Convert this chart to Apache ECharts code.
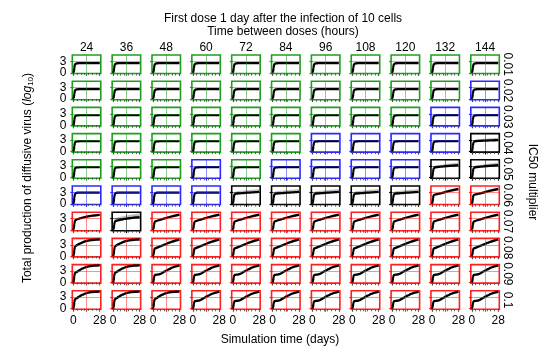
<!DOCTYPE html>
<html><head><meta charset="utf-8">
<script src="https://cdn.jsdelivr.net/npm/echarts@6/dist/echarts.min.js"></script>
<style>html,body{margin:0;padding:0;background:#fff}#c{width:550px;height:354px}</style>
</head><body><div id="c"></div>
<script>
// ---------------- data ----------------
const days = [0,0.5,1,1.5,2,3,4,6,8,10,12,14,17,20,24,28];
const colLabels = ['24','36','48','60','72','84','96','108','120','132','144'];
const rowLabels = ['0.01','0.02','0.03','0.04','0.05','0.06','0.07','0.08','0.09','0.1'];
const xTickLabels = [0, 28];
const yTickLabels = [0, 3];
const xMinorTicks = [0,4,8,12,16,20,24,28];

// panel border colour codes (G green, B blue, K black, R red)
const panelColors = [
  'GGGGGGGGGGG',
  'GGGGGGGGGGB',
  'GGGGGGGGGBB',
  'GGGGGGBBBBK',
  'GGGBGBBBBKK',
  'BBBBKKKKKRR',
  'RKRRRRRRRRR',
  'RRRRRRRRRRR',
  'RRRRRRRRRRR',
  'RRRRRRRRRRR'
];
// curve used by each panel
const panelCurves = [
  ['P1','P1','P1','P1','P1','P1','P1','P1','P1','P1','P1'],
  ['P2','P2','P2','P2','P2','P2','P2','P2','P2','P2','P2'],
  ['P3','P3','P3','P3','P3','P3','P3','P3','P3','P3','P3'],
  ['P4','P4','P4','P4','P4','P4','P4','P4','P4','P4','K1'],
  ['P5','P5','P5','P5','P5','P5','P5','P5','P5','K2','K2'],
  ['P6','P6','P6','P6','K3','K3','K3','K3','K3','R6','R6'],
  ['R7a','K4','R7b','R7b','R7b','R7b','R7b','R7b','R7b','R7b','R7b'],
  ['R8a','R8a','R8b','R8b','R8b','R8b','R8b','R8b','R8b','R8b','R8b'],
  ['R9a','R9a','R9b','R9b','R9b','R9b','R9b','R9b','R9b','R9b','R9b'],
  ['R9a','R9a','R9a','R9b','R9b','R9b','R9b','R9b','R9b','R9b','R9b']
];

// median line (log10 production) and run envelope, at the days above
const lineP1 = [0,0.3,1.3,2.0,2.3,2.45,2.5,2.52,2.53,2.54,2.55,2.55,2.55,2.55,2.55,2.55];
const loP1   = [0,0.2,1.1,1.8,2.15,2.35,2.42,2.45,2.46,2.47,2.48,2.48,2.48,2.48,2.48,2.48];
const hiP1   = [0,0.5,1.6,2.3,2.6,2.75,2.8,2.82,2.83,2.84,2.85,2.85,2.85,2.85,2.85,2.85];
const lineP2 = [0,0.3,1.35,2.05,2.35,2.5,2.55,2.57,2.58,2.59,2.6,2.6,2.6,2.6,2.6,2.6];
const loP2   = [0,0.2,1.15,1.85,2.2,2.4,2.47,2.5,2.51,2.52,2.53,2.53,2.53,2.53,2.53,2.53];
const hiP2   = [0,0.5,1.65,2.35,2.65,2.8,2.85,2.87,2.88,2.89,2.9,2.9,2.9,2.9,2.9,2.9];
const lineP3 = [0,0.3,1.4,2.1,2.4,2.55,2.6,2.62,2.63,2.64,2.65,2.65,2.65,2.65,2.65,2.65];
const loP3   = [0,0.2,1.2,1.9,2.25,2.45,2.52,2.55,2.56,2.57,2.58,2.58,2.58,2.58,2.58,2.58];
const hiP3   = [0,0.5,1.7,2.4,2.7,2.85,2.9,2.92,2.93,2.94,2.95,2.95,2.95,2.95,2.95,2.95];
const lineP4 = [0,0.3,1.45,2.15,2.45,2.6,2.65,2.67,2.68,2.69,2.7,2.7,2.7,2.7,2.7,2.7];
const loP4   = [0,0.2,1.25,1.95,2.3,2.5,2.57,2.6,2.61,2.62,2.63,2.63,2.63,2.63,2.63,2.63];
const hiP4   = [0,0.5,1.75,2.45,2.75,2.9,2.95,2.97,2.98,2.99,3.0,3.0,3.0,3.0,3.0,3.0];
const lineP5 = [0,0.35,1.5,2.2,2.5,2.65,2.7,2.72,2.73,2.74,2.75,2.75,2.75,2.75,2.75,2.75];
const loP5   = [0,0.25,1.3,2.0,2.35,2.55,2.62,2.65,2.66,2.67,2.68,2.68,2.68,2.68,2.68,2.68];
const hiP5   = [0,0.55,1.8,2.5,2.8,2.95,3.0,3.02,3.03,3.04,3.05,3.05,3.05,3.05,3.05,3.05];
const lineP6 = [0,0.4,1.6,2.35,2.7,2.85,2.9,2.93,2.94,2.95,2.95,2.95,2.95,2.95,2.95,2.95];
const loP6   = [0,0.3,1.4,2.15,2.55,2.75,2.82,2.85,2.86,2.87,2.87,2.87,2.87,2.87,2.87,2.87];
const hiP6   = [0,0.6,1.9,2.65,3.0,3.15,3.2,3.22,3.23,3.24,3.25,3.25,3.25,3.25,3.25,3.25];
const lineK1 = [0,0.3,1.4,2.1,2.45,2.62,2.68,2.73,2.76,2.79,2.81,2.83,2.86,2.89,2.92,2.95];
const loK1   = [0,0.2,1.2,1.9,2.3,2.5,2.58,2.63,2.66,2.68,2.7,2.72,2.74,2.76,2.78,2.8];
const hiK1   = [0,0.6,1.8,2.6,2.9,3.05,3.1,3.15,3.2,3.24,3.28,3.32,3.37,3.42,3.48,3.55];
const lineK2 = [0,0.3,1.45,2.15,2.5,2.66,2.72,2.78,2.83,2.88,2.93,2.98,3.04,3.1,3.17,3.25];
const loK2   = [0,0.2,1.25,1.95,2.35,2.55,2.62,2.67,2.71,2.75,2.79,2.83,2.88,2.93,2.99,3.05];
const hiK2   = [0,0.6,1.85,2.65,2.95,3.1,3.17,3.25,3.32,3.39,3.46,3.53,3.62,3.71,3.82,3.93];
const lineK3 = [0,0.35,1.5,2.2,2.5,2.63,2.68,2.72,2.76,2.8,2.84,2.88,2.93,2.98,3.04,3.1];
const loK3   = [0,0.25,1.3,2.0,2.35,2.52,2.58,2.62,2.65,2.68,2.71,2.74,2.78,2.82,2.87,2.92];
const hiK3   = [0,0.7,2.0,2.8,3.1,3.25,3.3,3.35,3.4,3.45,3.5,3.55,3.6,3.66,3.73,3.8];
const lineK4 = [0,0.3,1.3,1.95,2.25,2.4,2.48,2.6,2.7,2.8,2.9,2.98,3.08,3.18,3.3,3.4];
const loK4   = [0,0.2,1.1,1.75,2.05,2.2,2.28,2.4,2.5,2.58,2.66,2.74,2.84,2.94,3.05,3.15];
const hiK4   = [0,0.7,1.9,2.7,3.05,3.2,3.28,3.4,3.5,3.6,3.7,3.8,3.92,4.05,4.2,4.35];
const lineR6 = [0,0.3,1.4,2.05,2.3,2.42,2.48,2.58,2.7,2.82,2.95,3.08,3.28,3.46,3.68,3.9];
const loR6   = [0,0.2,1.2,1.85,2.12,2.25,2.3,2.4,2.5,2.6,2.7,2.8,2.96,3.1,3.3,3.5];
const hiR6   = [0,0.45,1.6,2.25,2.5,2.62,2.7,2.82,2.96,3.1,3.25,3.4,3.62,3.82,4.05,4.3];
const lineR7a = [0,0.4,1.55,2.25,2.55,2.7,2.8,2.97,3.12,3.26,3.38,3.49,3.63,3.74,3.85,3.93];
const loR7a   = [0,0.3,1.35,2.05,2.35,2.5,2.6,2.77,2.92,3.06,3.18,3.29,3.43,3.54,3.65,3.73];
const hiR7a   = [0,0.55,1.75,2.45,2.75,2.9,3.0,3.17,3.32,3.46,3.58,3.69,3.83,3.94,4.05,4.13];
const lineR7b = [0,0.3,1.35,1.95,2.2,2.33,2.42,2.57,2.72,2.87,3.02,3.17,3.38,3.58,3.8,4.0];
const loR7b   = [0,0.2,1.15,1.75,2.0,2.13,2.22,2.35,2.48,2.61,2.74,2.87,3.05,3.23,3.43,3.62];
const hiR7b   = [0,0.45,1.55,2.15,2.4,2.53,2.62,2.78,2.95,3.12,3.28,3.44,3.66,3.88,4.12,4.35];
const lineR8a = [0,0.4,1.6,2.3,2.6,2.8,2.95,3.2,3.45,3.65,3.84,3.99,4.14,4.24,4.31,4.36];
const loR8a   = [0,0.3,1.4,2.1,2.4,2.6,2.75,3.0,3.23,3.43,3.6,3.75,3.92,4.04,4.13,4.2];
const hiR8a   = [0,0.55,1.8,2.5,2.8,3.0,3.15,3.4,3.65,3.85,4.03,4.17,4.3,4.4,4.46,4.5];
const lineR8b = [0,0.3,1.3,1.85,2.05,2.15,2.23,2.42,2.62,2.83,3.04,3.24,3.53,3.8,4.1,4.36];
const loR8b   = [0,0.2,1.1,1.65,1.85,1.95,2.03,2.2,2.38,2.56,2.74,2.92,3.2,3.45,3.75,4.0];
const hiR8b   = [0,0.45,1.5,2.05,2.25,2.35,2.44,2.64,2.86,3.08,3.3,3.52,3.82,4.1,4.38,4.55];
const lineR9a = [0,0.45,1.7,2.3,2.5,2.68,2.83,3.13,3.43,3.68,3.88,4.04,4.23,4.34,4.4,4.43];
const loR9a   = [0,0.35,1.5,2.1,2.3,2.48,2.63,2.92,3.2,3.45,3.66,3.83,4.03,4.16,4.25,4.3];
const hiR9a   = [0,0.6,1.9,2.5,2.7,2.88,3.03,3.33,3.63,3.88,4.08,4.23,4.4,4.48,4.52,4.55];
const lineR9b = [0,0.3,1.3,1.8,1.95,2.0,2.04,2.1,2.25,2.52,2.82,3.1,3.48,3.84,4.18,4.45];
const loR9b   = [0,0.2,1.1,1.6,1.75,1.8,1.84,1.9,2.03,2.28,2.56,2.83,3.2,3.55,3.9,4.2];
const hiR9b   = [0,0.45,1.5,2.0,2.15,2.2,2.24,2.32,2.5,2.8,3.1,3.4,3.78,4.12,4.42,4.6];

// ---------------- lookup tables ----------------
const curves = {
  P1:[lineP1,loP1,hiP1], P2:[lineP2,loP2,hiP2], P3:[lineP3,loP3,hiP3],
  P4:[lineP4,loP4,hiP4], P5:[lineP5,loP5,hiP5], P6:[lineP6,loP6,hiP6],
  K1:[lineK1,loK1,hiK1], K2:[lineK2,loK2,hiK2], K3:[lineK3,loK3,hiK3], K4:[lineK4,loK4,hiK4],
  R6:[lineR6,loR6,hiR6], R7a:[lineR7a,loR7a,hiR7a], R7b:[lineR7b,loR7b,hiR7b],
  R8a:[lineR8a,loR8a,hiR8a], R8b:[lineR8b,loR8b,hiR8b],
  R9a:[lineR9a,loR9a,hiR9a], R9b:[lineR9b,loR9b,hiR9b]
};
const colorOf = {G:'#1f9e1f', B:'#2a2aff', K:'#000000', R:'#ff1f1f'};
const bandOf = {
  P:['rgba(150,150,150,0.35)','rgba(150,175,150,0.35)'],
  K:['rgba(110,110,110,0.45)','rgba(110,110,110,0.45)'],
  R:['rgba(90,150,210,0.6)','rgba(232,175,120,0.6)']
};

// ---------------- layout ----------------
const left0 = 72.3, dx = 39.85, top0 = 55, dy = 26.2, pw = 28.5, ph = 18.5;
const FONT = 'Liberation Sans';
const YMIN = -0.15, YMAX = 4.65, XMIN = -1.12, XMAX = 29.12;

// band between two value columns (dims a and b) drawn as one polygon
function bandSeries(idx, data, a, b, color) {
  return {type: 'custom', coordinateSystem: 'cartesian2d', xAxisIndex: 2*idx, yAxisIndex: idx,
    silent: true, animation: false, z: 2, clip: true, data: data,
    renderItem: function (params, api) {
      if (params.dataIndexInside !== 0) return null;
      const n = params.dataInsideLength, pts = [];
      for (let k = 0; k < n; k++) pts.push(api.coord([api.value(0, k), api.value(b, k)]));
      for (let k = n - 1; k >= 0; k--) pts.push(api.coord([api.value(0, k), api.value(a, k)]));
      return {type: 'polygon', shape: {points: pts}, style: {fill: color}};
    }};
}
const labelStyle = {fontSize: 12, fontFamily: FONT, color: '#000', hideOverlap: false};

const grids = [], xAxes = [], yAxes = [], extraY = [], series = [];
let idx = 0;
for (let r = 0; r < rowLabels.length; r++) {
  for (let c = 0; c < colLabels.length; c++) {
    const col = colorOf[panelColors[r][c]];
    const name = panelCurves[r][c];
    const [ln, lo, hi] = curves[name];
    const band = bandOf[name[0]];
    grids.push({left: left0 + c*dx, top: top0 + r*dy, width: pw, height: ph,
      show: true, borderColor: col, borderWidth: 1.6, backgroundColor: 'transparent',
      containLabel: false, outerBoundsMode: 'none'});
    xAxes.push({gridIndex: idx, type: 'value', min: XMIN, max: XMAX, position: 'bottom',
      axisLine: {show: false}, splitLine: {show: false},
      axisTick: {show: true, customValues: [0,14,28], length: 3, lineStyle: {color: col, width: 1.2}},
      axisLabel: Object.assign({show: r === rowLabels.length - 1, customValues: xTickLabels, margin: 5}, labelStyle)});
    xAxes.push({gridIndex: idx, type: 'value', min: XMIN, max: XMAX, position: 'bottom', offset: 0,
      axisLine: {show: false}, splitLine: {show: false}, axisLabel: {show: false},
      axisTick: {show: true, customValues: xMinorTicks, length: 2, lineStyle: {color: '#444', width: 0.8}}});
    yAxes.push({gridIndex: idx, type: 'value', min: YMIN, max: YMAX, position: 'left',
      axisLine: {show: false}, splitLine: {show: false},
      axisTick: {show: true, customValues: yTickLabels, length: 3, lineStyle: {color: col, width: 1.2}},
      axisLabel: Object.assign({show: c === 0, customValues: [yTickLabels[1]], margin: 6}, labelStyle)});
    if (c === 0) {
      // second left axis carrying the "0" label (one label per axis avoids overlap hiding)
      extraY.push({gridIndex: idx, type: 'value', min: YMIN, max: YMAX, position: 'left', offset: 0,
        axisLine: {show: false}, splitLine: {show: false}, axisTick: {show: false},
        axisLabel: Object.assign({show: true, customValues: [yTickLabels[0]], margin: 6}, labelStyle)});
    }
    const data = days.map((d,k) => [d, lo[k], ln[k], hi[k]]);
    // gridlines at day 14 and log10 = 3
    series.push({type: 'line', xAxisIndex: 2*idx, yAxisIndex: idx, data: [], silent: true, animation: false, z: 1,
      markLine: {silent: true, symbol: ['none','none'], label: {show: false}, animation: false,
        lineStyle: {color: col, width: 1, type: 'solid', opacity: 0.5},
        data: [{xAxis: 14}, {yAxis: 3}]}});
    series.push(bandSeries(idx, data, 1, 2, band[0]));
    series.push(bandSeries(idx, data, 2, 3, band[1]));
    series.push({type: 'line', xAxisIndex: 2*idx, yAxisIndex: idx, showSymbol: false, symbol: 'none',
      silent: true, animation: false, z: 3, smooth: 0.25, smoothMonotone: 'x',
      data: days.map((d,k) => [d, ln[k]]), lineStyle: {color: '#000', width: 2.3}});
    idx++;
  }
}

const txt = (text, x, y, rot, extra) => ({type: 'text', x: x, y: y, rotation: rot || 0, silent: true,
  style: Object.assign({text: text, fontSize: 12, fontFamily: FONT, fill: '#000',
    align: 'center', verticalAlign: 'middle'}, extra || {})});
const graphics = [
  txt('First dose 1 day after the infection of 10 cells', 283, 18.5),
  txt('Time between doses (hours)', 283, 32),
  txt('Simulation time (days)', 280, 340),
  txt('IC50 multiplier', 532, 182, -Math.PI/2),
  txt('Total production of diffusive virus ({i|log}{s|10})', 28, 178, Math.PI/2, {
    rich: {i: {fontStyle: 'italic', fontSize: 12, fontFamily: FONT},
           s: {fontSize: 8, fontFamily: FONT, padding: [6,0,0,0]}}})
];
colLabels.forEach((t, c) => graphics.push(txt(t, left0 + c*dx + pw/2, 47.5)));
rowLabels.forEach((t, r) => graphics.push(txt(t, 507.5, top0 + r*dy + ph/2, -Math.PI/2)));

const chart = echarts.init(document.getElementById('c'), null, {renderer: 'canvas'});
chart.setOption({animation: false, backgroundColor: '#fff', grid: grids, xAxis: xAxes,
  yAxis: yAxes.concat(extraY), series: series, graphic: graphics, tooltip: {show: false}});
</script></body></html>
